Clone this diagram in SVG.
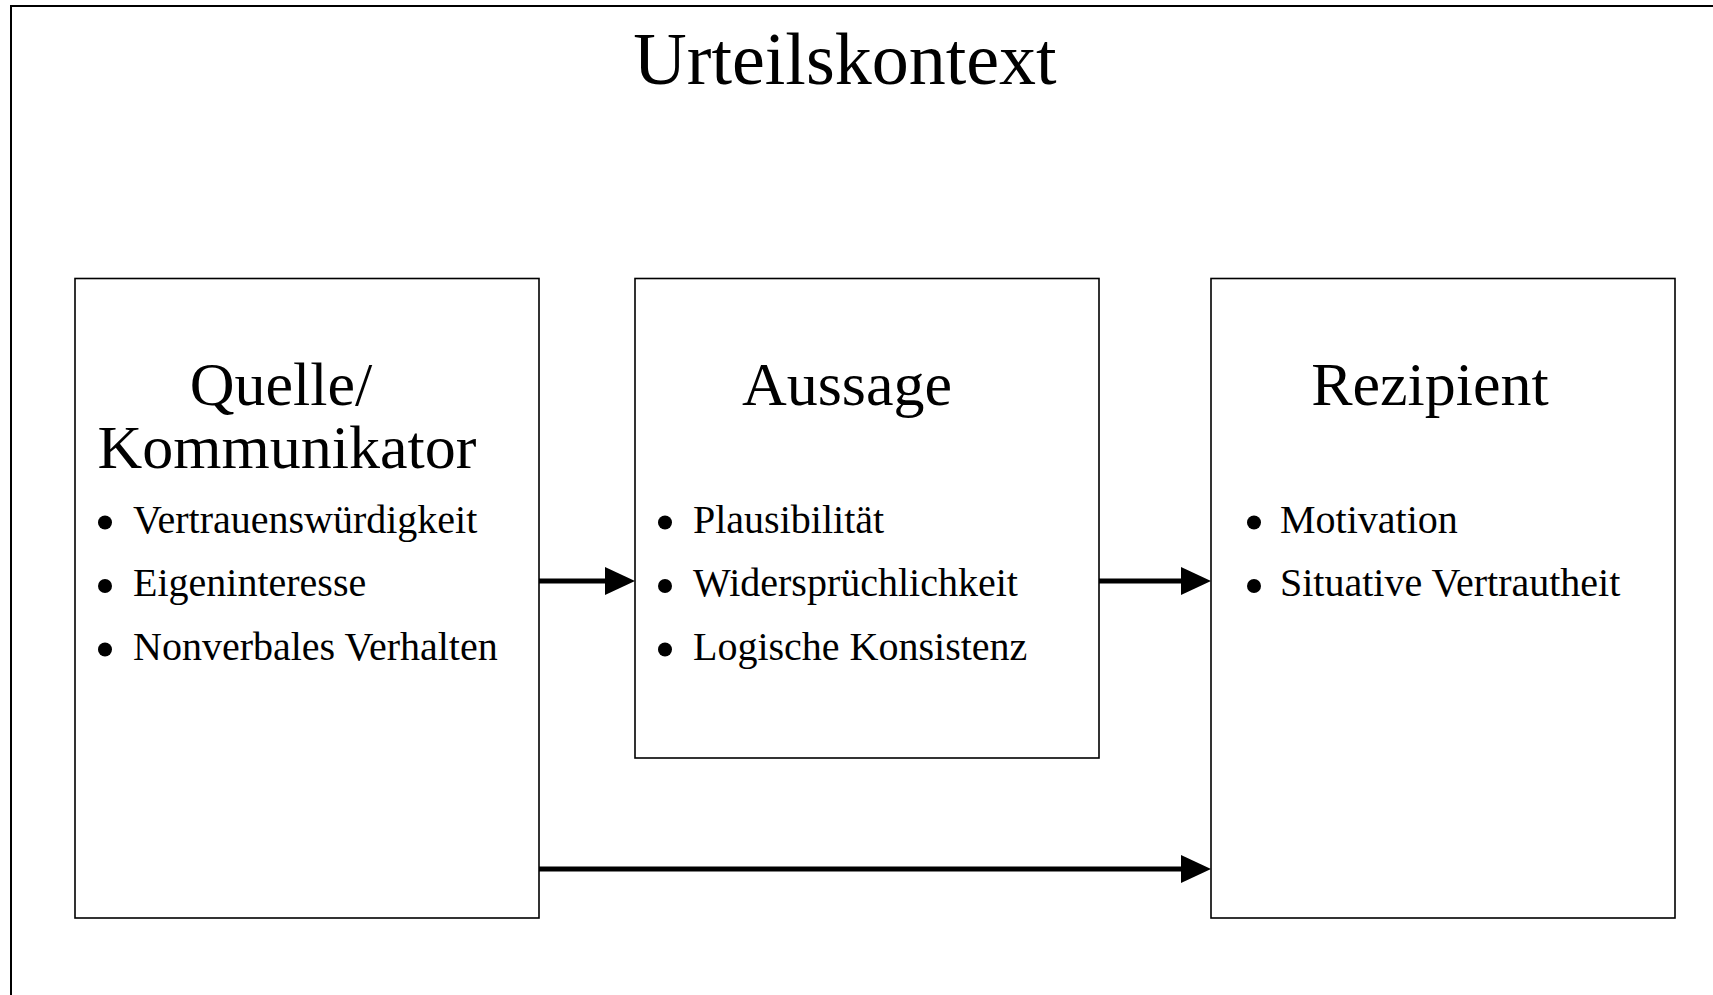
<svg xmlns="http://www.w3.org/2000/svg" width="1713" height="995" viewBox="0 0 1713 995">
  <style>
    .frame { fill: #fff; stroke: #000; stroke-width: 2; }
    .box { fill: #fff; stroke: #000; stroke-width: 1.6; }
    .title { font-family: "Liberation Serif", "Times New Roman", serif; font-size: 74px; fill: #000; }
    .head { font-family: "Liberation Serif", "Times New Roman", serif; font-size: 62px; fill: #000; }
    .item { font-family: "Liberation Serif", "Times New Roman", serif; font-size: 40px; fill: #000; }
    .dot { fill: #000; }
    .conn { stroke: #000; stroke-width: 5; fill: none; }
  </style>
  <defs>
    <marker id="arrow" markerUnits="userSpaceOnUse" markerWidth="31" markerHeight="30" refX="0" refY="14" orient="auto">
      <path d="M0,0 L30,14 L0,28 z" fill="#000"/>
    </marker>
  </defs>

  <rect class="frame" x="11" y="6" width="1730" height="1010"/>
  <text class="title" x="845" y="84" text-anchor="middle">Urteilskontext</text>

  <g id="quelle">
    <rect class="box" x="75" y="278.5" width="464" height="639.5"/>
    <text class="head" x="281" y="405" text-anchor="middle">Quelle/</text>
    <text class="head" x="287" y="468" text-anchor="middle">Kommunikator</text>
    <circle class="dot" cx="105" cy="522.5" r="7"/>
    <text class="item" x="133" y="532.5">Vertrauenswürdigkeit</text>
    <circle class="dot" cx="105" cy="586" r="7"/>
    <text class="item" x="133" y="596">Eigeninteresse</text>
    <circle class="dot" cx="105" cy="649.5" r="7"/>
    <text class="item" x="133" y="659.5">Nonverbales Verhalten</text>
  </g>

  <g id="aussage">
    <rect class="box" x="635" y="278.5" width="464" height="479.5"/>
    <text class="head" x="847" y="405" text-anchor="middle">Aussage</text>
    <circle class="dot" cx="665" cy="522.5" r="7"/>
    <text class="item" x="693" y="532.5">Plausibilität</text>
    <circle class="dot" cx="665" cy="586" r="7"/>
    <text class="item" x="693" y="596">Widersprüchlichkeit</text>
    <circle class="dot" cx="665" cy="649.5" r="7"/>
    <text class="item" x="693" y="659.5">Logische Konsistenz</text>
  </g>

  <g id="rezipient">
    <rect class="box" x="1211" y="278.5" width="464" height="639.5"/>
    <text class="head" x="1430" y="405" text-anchor="middle">Rezipient</text>
    <circle class="dot" cx="1254" cy="522.5" r="7"/>
    <text class="item" x="1280" y="532.5">Motivation</text>
    <circle class="dot" cx="1254" cy="586" r="7"/>
    <text class="item" x="1280" y="596">Situative Vertrautheit</text>
  </g>

  <g id="connectors">
    <line class="conn" x1="539" y1="581" x2="605" y2="581" marker-end="url(#arrow)"/>
    <line class="conn" x1="1099" y1="581" x2="1181" y2="581" marker-end="url(#arrow)"/>
    <line class="conn" x1="539" y1="869" x2="1181" y2="869" marker-end="url(#arrow)"/>
  </g>
</svg>
